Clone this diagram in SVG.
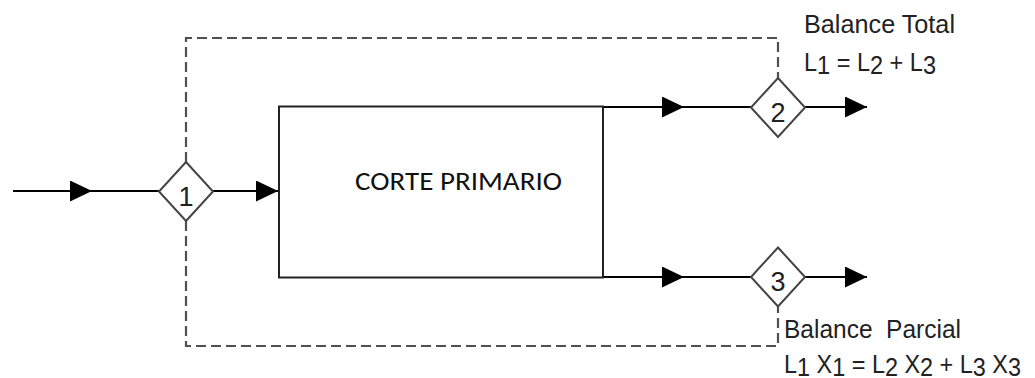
<svg xmlns="http://www.w3.org/2000/svg" width="1035" height="378" viewBox="0 0 1035 378">
  <defs>
    <marker id="arrow" markerUnits="userSpaceOnUse" markerWidth="22" markerHeight="21" refX="22" refY="10.5" orient="auto">
      <path d="M0,0 L22,10.5 L0,21 Z" fill="#000"/>
    </marker>
  </defs>
  <style>
    .flow { fill: none; stroke: #000; stroke-width: 1.8; }
    .dash { fill: none; stroke: #505050; stroke-width: 2.2; stroke-dasharray: 10 5; }
    .box { fill: #fff; stroke: #222; stroke-width: 2; }
    .junction { fill: #fff; stroke: #444; stroke-width: 2; }
    .num { font-family: "Liberation Sans", Arial, sans-serif; font-size: 27px; fill: #222; text-anchor: middle; }
    .note { font-family: "Liberation Sans", Arial, sans-serif; font-size: 26px; fill: #222; white-space: pre; }
    .title { font-family: "Carlito", "Liberation Sans", Arial, sans-serif; font-size: 27.5px; fill: #111; }
  </style>
  <rect width="1035" height="378" fill="#fff"/>

  <!-- flow lines and balance envelopes -->
  <g id="connectors">
    <path class="dash" d="M186,162 V38 H778 V78"/>
    <path class="dash" d="M186,221 V346 H778 V307"/>
    <path class="flow" d="M13,191 H92" marker-end="url(#arrow)"/>
    <path class="flow" d="M92,191 H159"/>
    <path class="flow" d="M213,191 H278" marker-end="url(#arrow)"/>
    <path class="flow" d="M603,107 H684" marker-end="url(#arrow)"/>
    <path class="flow" d="M684,107 H751"/>
    <path class="flow" d="M805,107 H867" marker-end="url(#arrow)"/>
    <path class="flow" d="M603,277 H684" marker-end="url(#arrow)"/>
    <path class="flow" d="M684,277 H751"/>
    <path class="flow" d="M805,277 H867" marker-end="url(#arrow)"/>
  </g>

  <g id="node-corte-primario">
    <rect class="box" x="279" y="106.5" width="324" height="171"/>
    <text class="title" x="355" y="190" textLength="207" lengthAdjust="spacingAndGlyphs">CORTE PRIMARIO</text>
  </g>

  <g id="node-1">
    <polygon class="junction" points="186,162 213,191.5 186,221 159,191.5"/>
    <text class="num" x="186" y="206">1</text>
  </g>

  <g id="node-2">
    <polygon class="junction" points="778,78 805,107.5 778,137 751,107.5"/>
    <text class="num" x="778" y="121.5">2</text>
  </g>

  <g id="node-3">
    <polygon class="junction" points="778,247.5 805,277 778,306.5 751,277"/>
    <text class="num" x="778" y="291">3</text>
  </g>

  <g id="label-balance-total">
    <text class="note" x="804" y="33" textLength="151" lengthAdjust="spacingAndGlyphs">Balance Total</text>
    <text class="note" x="804" y="71" textLength="132" lengthAdjust="spacingAndGlyphs">L<tspan dy="3">1</tspan><tspan dy="-3"> = L</tspan><tspan dy="3">2</tspan><tspan dy="-3"> + L</tspan><tspan dy="3">3</tspan></text>
  </g>

  <g id="label-balance-parcial">
    <text class="note" x="784" y="338" xml:space="preserve" textLength="177" lengthAdjust="spacingAndGlyphs">Balance  Parcial</text>
    <text class="note" x="784" y="372.5" textLength="237" lengthAdjust="spacingAndGlyphs">L<tspan dy="3">1</tspan><tspan dy="-3"> X</tspan><tspan dy="3">1</tspan><tspan dy="-3"> = L</tspan><tspan dy="3">2</tspan><tspan dy="-3"> X</tspan><tspan dy="3">2</tspan><tspan dy="-3"> + L</tspan><tspan dy="3">3</tspan><tspan dy="-3"> X</tspan><tspan dy="3">3</tspan></text>
  </g>
</svg>
